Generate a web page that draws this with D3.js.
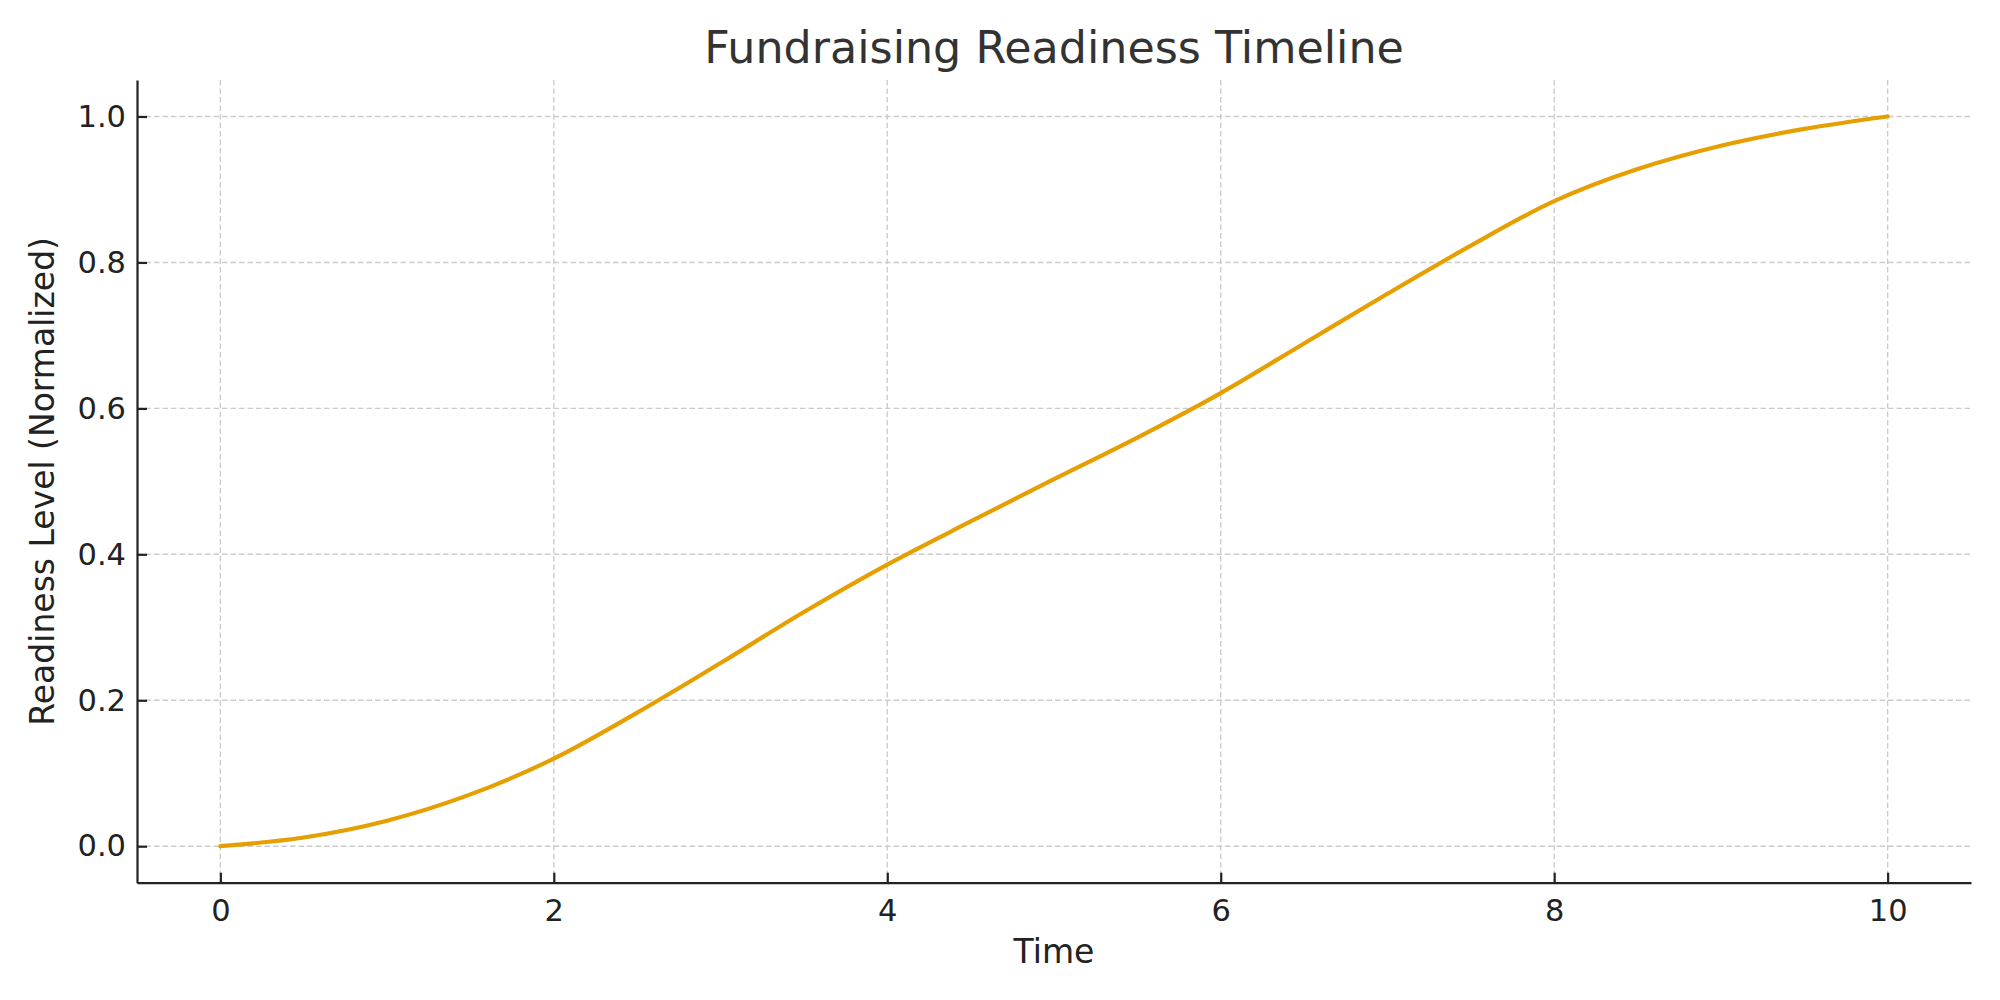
<!DOCTYPE html>
<html>
<head>
<meta charset="utf-8">
<script src="https://cdn.jsdelivr.net/npm/d3@7"></script>
<style>
  html, body { margin: 0; padding: 0; background: #fff; }
  svg { display: block; font-family: "DejaVu Sans", sans-serif; }
</style>
</head>
<body>
<svg id="chart" width="2000" height="1000"></svg>
<script>
// Data
const times = [0, 0.5, 1, 1.5, 2, 2.5, 3, 3.5, 4, 4.5, 5, 5.5, 6, 6.5, 7, 7.5, 8, 8.5, 9, 9.5, 10];
const readiness = [0, 0.012, 0.035, 0.071, 0.12, 0.183, 0.251, 0.321, 0.386, 0.445, 0.503, 0.56, 0.621, 0.689, 0.757, 0.823, 0.884, 0.928, 0.96, 0.983, 1.0];
const xTicks = [0, 2, 4, 6, 8, 10];
const yTicks = [0, 0.2, 0.4, 0.6, 0.8, 1.0];
const titleText = "Fundraising Readiness Timeline";
const xLabel = "Time";
const yLabel = "Readiness Level (Normalized)";

const svg = d3.select("#chart");
const mLeft = 137, mRight = 1971, mTop = 80, mBottom = 882.7;

const x = d3.scaleLinear().domain([-0.5, 10.5]).range([mLeft, mRight]);
const y = d3.scaleLinear().domain([-0.05, 1.05]).range([mBottom, mTop]);

// grid
const grid = svg.append("g");
grid.selectAll("line.v").data(xTicks).join("line")
  .attr("x1", d => x(d)).attr("x2", d => x(d))
  .attr("y1", mTop).attr("y2", mBottom)
  .attr("stroke", "#cccccc").attr("stroke-width", 1.4).attr("stroke-dasharray", "5.5,3");
grid.selectAll("line.h").data(yTicks).join("line")
  .attr("x1", mLeft).attr("x2", mRight)
  .attr("y1", d => y(d)).attr("y2", d => y(d))
  .attr("stroke", "#cccccc").attr("stroke-width", 1.4).attr("stroke-dasharray", "5.5,3");

// line
const pts = times.map((t, i) => [t, readiness[i]]);
svg.append("path")
  .datum(pts)
  .attr("fill", "none")
  .attr("stroke", "#E69F00")
  .attr("stroke-width", 4.2)
  .attr("stroke-linecap", "round")
  .attr("d", d3.line().x(d => x(d[0])).y(d => y(d[1])).curve(d3.curveCatmullRom.alpha(0.5)));

// axes
const xAxis = svg.append("g").attr("transform", `translate(0,${mBottom})`)
  .call(d3.axisBottom(x).tickValues(xTicks).tickFormat(d3.format("d")).tickSize(-10).tickPadding(17).tickSizeOuter(0));
const yAxis = svg.append("g").attr("transform", `translate(${mLeft},0)`)
  .call(d3.axisLeft(y).tickValues(yTicks).tickFormat(d3.format(".1f")).tickSize(-10).tickPadding(11).tickSizeOuter(0));

[xAxis, yAxis].forEach(a => {
  a.select(".domain").attr("stroke", "#222").attr("stroke-width", 2.2);
  a.selectAll(".tick line").attr("stroke", "#222").attr("stroke-width", 2.2);
  a.selectAll(".tick text").attr("fill", "#222").style("font-size", "30.5px").style("font-family", "DejaVu Sans");
});

// title
svg.append("text")
  .attr("x", (mLeft + mRight) / 2).attr("y", 63)
  .attr("text-anchor", "middle")
  .attr("fill", "#333")
  .style("font-size", "44.4px")
  .text(titleText);

// x label
svg.append("text")
  .attr("x", (mLeft + mRight) / 2).attr("y", 963)
  .attr("text-anchor", "middle")
  .attr("fill", "#222")
  .style("font-size", "33px")
  .text(xLabel);

// y label
svg.append("text")
  .attr("transform", `translate(54,${(mTop + mBottom) / 2}) rotate(-90)`)
  .attr("text-anchor", "middle")
  .attr("fill", "#222")
  .style("font-size", "33px")
  .text(yLabel);
</script>
</body>
</html>
